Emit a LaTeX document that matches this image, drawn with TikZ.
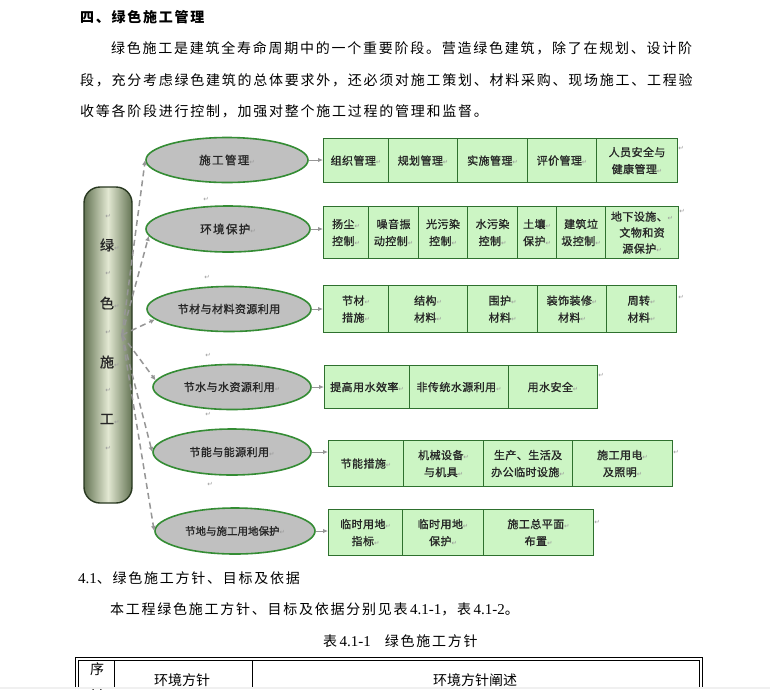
\documentclass[tikz,border=0pt]{standalone}
\usepackage{fontspec}
\setmainfont{Liberation Serif}
\newfontfamily\cjk[LetterSpace=12.5]{Noto Sans CJK SC}
\newfontfamily\cjkd[FakeBold=1.2]{Noto Sans CJK SC}
\newfontfamily\cjkh{Noto Sans CJK SC}
\newfontfamily\cjkdw[LetterSpace=4,FakeBold=1.2]{Noto Sans CJK SC}
\newfontfamily\cjkdww[LetterSpace=12,FakeBold=1.2]{Noto Sans CJK SC}
\newfontfamily\arrowfont{DejaVu Sans}
\usetikzlibrary{shapes.geometric,arrows.meta}
\definecolor{boxfill}{RGB}{204,245,196}
\definecolor{boxline}{RGB}{46,112,46}
\definecolor{ellfill}{RGB}{192,192,192}
\definecolor{ellline}{RGB}{52,140,52}
\definecolor{pilledge}{RGB}{100,116,84}
\definecolor{pillmid}{RGB}{226,232,210}
\definecolor{pillline}{RGB}{40,56,32}
\definecolor{conn}{RGB}{150,150,150}
\newcommand\pmk{{\arrowfont\fontsize{6.5}{6.5}\selectfont\textcolor{black!40}{↵}}}
\newcommand\pmkr{\rlap{\pmk}}
\tikzset{
  bodytext/.style={anchor=base west, inner sep=0pt, font=\cjk\fontsize{14}{14}\selectfont},
  cellbox/.style={draw=boxline, fill=boxfill, line width=1.1pt, anchor=north west,
    inner sep=1pt, align=center, text=black!85, font=\cjkdw\fontsize{11}{17}\selectfont},
  ellnode/.style={ellipse, draw=ellline, fill=ellfill, line width=1.6pt, inner sep=0pt,
    text=black!85, font=\cjkdw\fontsize{11}{12}\selectfont},
  pillbox/.style={rounded corners=16pt, draw=pillline, line width=1.4pt,
    left color=pilledge, right color=pilledge, middle color=pillmid,
    minimum width=48pt, minimum height=316pt, inner sep=0pt},
  pilltext/.style={inner sep=0pt, text=black!85, font=\cjkd\fontsize{14}{14}\selectfont},
  dashline/.style={draw=conn, line width=1.5pt, dash pattern=on 6pt off 4pt,
    -{Latex[length=5pt,width=5pt]}},
  harrow/.style={draw=conn, line width=1pt, -{Latex[length=5pt,width=4.5pt]}},
  pmark/.style={inner sep=0pt},
  tabline/.style={draw=black, line width=0.8pt},
  headtext/.style={inner sep=0pt, font=\cjkh\fontsize{14}{14}\selectfont}
}
\begin{document}
\begin{tikzpicture}[x=1pt,y=-1pt]
\useasboundingbox (0,0) rectangle (770,689);
\clip (0,0) rectangle (770,689);
\fill[white] (0,0) rectangle (770,689);

% heading and paragraph
\node[bodytext, font=\cjk\bfseries\fontsize{14}{14}\selectfont] (h) at (80,22.5) {四、绿色施工管理};
\node[bodytext] (p1) at (111,53.5) {绿色施工是建筑全寿命周期中的一个重要阶段。营造绿色建筑，除了在规划、设计阶};
\node[bodytext] (p2) at (80,85.5) {段，充分考虑绿色建筑的总体要求外，还必须对施工策划、材料采购、现场施工、工程验};
\node[bodytext] (p3) at (80,116.5) {收等各阶段进行控制，加强对整个施工过程的管理和监督。};

% left pill
\node[pillbox] (pill) at (108,345) {};
\node[pilltext] (g0) at (108,216) {\pmk};
\node[pilltext] (g1) at (107,245) {绿\pmkr};
\node[pilltext] (g2) at (108,273) {\pmk};
\node[pilltext] (g3) at (107,303) {色\pmkr};
\node[pilltext] (g4) at (108,332) {\pmk};
\node[pilltext] (g5) at (107,362) {施\pmkr};
\node[pilltext] (g6) at (108,390) {\pmk};
\node[pilltext] (g7) at (107,419) {工\pmkr};
\node[pilltext] (g8) at (108,448) {\pmk};

% ellipses
\node[ellnode, font=\cjkdww\fontsize{11.5}{12}\selectfont, minimum width=162pt, minimum height=45pt] (e1) at (227,160) {施工管理\pmk};
\node[ellnode, font=\cjkdww\fontsize{11.5}{12}\selectfont, minimum width=164pt, minimum height=46pt] (e2) at (228,229) {环境保护\pmk};
\node[ellnode, minimum width=164pt, minimum height=45pt] (e3) at (229,309) {节材与材料资源利用};
\node[ellnode, minimum width=158pt, minimum height=45pt] (e4) at (232,387) {节水与水资源利用\pmk};
\node[ellnode, minimum width=158pt, minimum height=46pt] (e5) at (232,452) {节能与能源利用\pmk};
\node[ellnode, font=\cjkd\fontsize{10.5}{12}\selectfont, minimum width=160pt, minimum height=46pt] (e6) at (235,531) {节地与施工用地保护\pmk};

% paragraph marks between ellipses
\node[pmark] (m1) at (206,199) {\pmk};
\node[pmark] (m2) at (207,277) {\pmk};
\node[pmark] (m3) at (208,355) {\pmk};
\node[pmark] (m4) at (208,414) {\pmk};
\node[pmark] (m5) at (210,484) {\pmk};

% dashed connectors
\coordinate (S) at (122,335);
\draw[dashline] (S) -- (e1.west);
\draw[dashline] (S) -- (e2.185);
\draw[dashline] (S) -- (e3.188);
\draw[dashline] (S) -- (e4.175);
\draw[dashline] (S) -- (e5.west);
\draw[dashline] (S) -- (e6.west);

% row 1
\node[cellbox, minimum width=65pt, minimum height=44pt] (a1) at (323,138) {组织管理\pmk};
\node[cellbox, minimum width=69pt, minimum height=44pt] (a2) at (388,138) {规划管理\pmk};
\node[cellbox, minimum width=70pt, minimum height=44pt] (a3) at (457,138) {实施管理\pmk};
\node[cellbox, minimum width=69pt, minimum height=44pt] (a4) at (527,138) {评价管理\pmk};
\node[cellbox, minimum width=81pt, minimum height=44pt] (a5) at (596,138) {人员安全与\\健康管理\pmk};
\node[pmark] (ma) at (681,148) {\pmk};

% row 2
\node[cellbox, minimum width=45pt, minimum height=52pt] (b1) at (323,206) {扬尘\pmk\\控制\pmk};
\node[cellbox, minimum width=50pt, minimum height=52pt] (b2) at (368,206) {噪音振\\动控制\pmk};
\node[cellbox, minimum width=49pt, minimum height=52pt] (b3) at (418,206) {光污染\\控制\pmk};
\node[cellbox, minimum width=50pt, minimum height=52pt] (b4) at (467,206) {水污染\\控制\pmk};
\node[cellbox, minimum width=39pt, minimum height=52pt] (b5) at (517,206) {土壤\pmk\\保护\pmk};
\node[cellbox, minimum width=49pt, minimum height=52pt] (b6) at (556,206) {建筑垃\\圾控制\pmk};
\node[cellbox, minimum width=73pt, minimum height=52pt, font=\cjkdw\fontsize{11}{16}\selectfont] (b7) at (605,206) {地下设施、\pmk\\文物和资\\源保护\pmk};
\node[pmark] (mb) at (682,211) {\pmk};

% row 3
\node[cellbox, minimum width=65pt, minimum height=47pt] (c1) at (323,285) {节材\pmk\\措施\pmk};
\node[cellbox, minimum width=79pt, minimum height=47pt] (c2) at (388,285) {结构\pmk\\材料\pmk};
\node[cellbox, minimum width=70pt, minimum height=47pt] (c3) at (467,285) {围护\pmk\\材料\pmk};
\node[cellbox, minimum width=69pt, minimum height=47pt] (c4) at (537,285) {装饰装修\pmk\\材料\pmk};
\node[cellbox, minimum width=70pt, minimum height=47pt] (c5) at (606,285) {周转\pmk\\材料\pmk};
\node[pmark] (mc) at (681,297) {\pmk};

% row 4
\node[cellbox, minimum width=85pt, minimum height=43pt] (d1) at (324,365) {提高用水效率\pmk};
\node[cellbox, minimum width=99pt, minimum height=43pt] (d2) at (409,365) {非传统水源利用\pmk};
\node[cellbox, minimum width=89pt, minimum height=43pt] (d3) at (508,365) {用水安全\pmk};
\node[pmark] (md) at (601,375) {\pmk};

% row 5
\node[cellbox, minimum width=75pt, minimum height=46pt] (f1) at (328,440) {节能措施\pmk};
\node[cellbox, minimum width=80pt, minimum height=46pt] (f2) at (403,440) {机械设备\pmk\\与机具\pmk};
\node[cellbox, minimum width=89pt, minimum height=46pt] (f3) at (483,440) {生产、生活及\\办公临时设施\pmk};
\node[cellbox, minimum width=100pt, minimum height=46pt] (f4) at (572,440) {施工用电\pmk\\及照明\pmk};
\node[pmark] (mf) at (676,452) {\pmk};

% row 6
\node[cellbox, minimum width=74pt, minimum height=46pt] (k1) at (328,509) {临时用地\pmk\\指标\pmk};
\node[cellbox, minimum width=81pt, minimum height=46pt] (k2) at (402,509) {临时用地\pmk\\保护\pmk};
\node[cellbox, minimum width=110pt, minimum height=46pt] (k3) at (483,509) {施工总平面\pmk\\布置\pmk};
\node[pmark] (mk) at (597,522) {\pmk};

% horizontal arrows
\draw[harrow] (e1.east) -- (e1.east -| a1.west);
\draw[harrow] (e2.east) -- (e2.east -| b1.west);
\draw[harrow] (e3.east) -- (e3.east -| c1.west);
\draw[harrow] (e4.east) -- (e4.east -| d1.west);
\draw[harrow] (e5.east) -- (e5.east -| f1.west);
\draw[harrow] (e6.east) -- (e6.east -| k1.west);

% lower text
\node[bodytext] (s1) at (78,583.5) {{\rmfamily\fontsize{15}{15}\selectfont 4.1}、绿色施工方针、目标及依据};
\node[bodytext] (s2) at (110,614.5) {本工程绿色施工方针、目标及依据分别见表{\rmfamily\fontsize{15}{15}\selectfont\,4.1-1}，表{\rmfamily\fontsize{15}{15}\selectfont\,4.1-2}。};
\node[bodytext] (s3) at (323,646.5) {表{\rmfamily\fontsize{15}{15}\selectfont\,4.1-1}\hspace{14pt}绿色施工方针};

% table
\draw[tabline] (75,689) -- (75,657) -- (702,657) -- (702,689);
\draw[tabline] (78,689) -- (78,660) -- (699,660) -- (699,689);
\draw[tabline] (114,660) -- (114,689);
\draw[tabline] (252,660) -- (252,689);
\node[headtext] (t1) at (97,669) {序};
\node[headtext] (t1b) at (97,694) {号};
\node[headtext] (t2) at (182,680) {环境方针};
\node[headtext] (t3) at (475,680) {环境方针阐述};
\fill[black!6] (0,687) rectangle (770,689);
\end{tikzpicture}
\end{document}
